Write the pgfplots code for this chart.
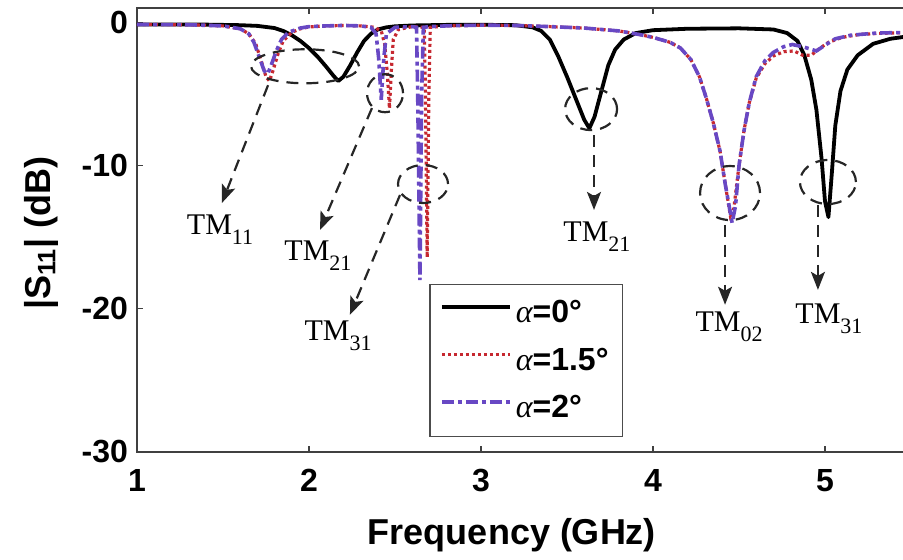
\documentclass[border=0pt]{standalone}
\usepackage{pgfplots}
\pgfplotsset{compat=1.18}
\usepackage{fontspec}
\setmainfont{Liberation Sans}
\newfontfamily\tmfont{Liberation Serif}
\usetikzlibrary{arrows.meta}
\definecolor{redA}{RGB}{198,40,48}
\definecolor{purA}{RGB}{104,72,196}
\newcommand{\tm}[1]{TM\raisebox{-5pt}{\fontsize{11}{12}\selectfont #1}}

\begin{document}
\begin{tikzpicture}
\begin{axis}[
  scale only axis,
  width=387pt, height=222pt,
  xmin=1, xmax=5.5, ymin=-30, ymax=1,
  xtick={1,2,3,4,5}, xticklabels={1,2,3,4,5},
  ytick={-30,-20,-10,0}, yticklabels={-30,-20,-10,0},
  tick align=inside, major tick length=3pt,
  axis line style={black!75, line width=0.6pt},
  tick style={black!75, line width=0.6pt},
  tick label style={font=\fontsize{16}{18}\selectfont\bfseries},
  xticklabel style={yshift=-5pt},
  yticklabel style={xshift=-1pt},
  xlabel={Frequency (GHz)},
  ylabel={|S\textsubscript{11}| (dB)},
  label style={font=\fontsize{18}{20}\selectfont\bfseries},
  xlabel style={at={(axis description cs:0.4845,0)}, anchor=center, yshift=-41.5pt},
  ylabel style={at={(axis description cs:0,0.493)}, anchor=center, yshift=48pt},
  legend style={at={(axis cs:2.70,-18.26)}, anchor=north west,
    draw=black!70, line width=0.6pt, fill=white,
    font=\fontsize{16}{18}\selectfont\bfseries,
    row sep=7pt, inner xsep=5pt, inner ysep=6pt},
  legend cell align=left,
  legend image code/.code={\draw[#1] (0pt,3pt) -- (34pt,3pt);},
]
% alpha = 0
\addplot[black, line width=1.9pt, line join=round] coordinates {
  (1.0,-0.15)(1.2,-0.15)(1.4,-0.16)(1.6,-0.2)(1.7,-0.25)(1.8,-0.4)(1.85,-0.6)
  (1.9,-0.9)(1.95,-1.3)(2.0,-1.8)(2.05,-2.4)(2.1,-3.1)(2.14,-3.7)(2.17,-4.1)
  (2.2,-3.8)(2.24,-3.0)(2.28,-2.1)(2.32,-1.3)(2.36,-0.8)(2.4,-0.5)(2.45,-0.35)
  (2.5,-0.28)(2.6,-0.22)(2.8,-0.18)(3.0,-0.17)(3.2,-0.2)(3.3,-0.35)(3.35,-0.6)
  (3.4,-1.2)(3.45,-2.4)(3.5,-3.8)(3.55,-5.3)(3.6,-6.8)(3.63,-7.4)(3.66,-6.6)
  (3.7,-4.8)(3.74,-3.0)(3.78,-1.9)(3.83,-1.2)(3.9,-0.75)(4.0,-0.55)(4.2,-0.45)
  (4.5,-0.42)(4.7,-0.5)(4.78,-0.75)(4.84,-1.3)(4.88,-2.3)(4.92,-4.0)(4.95,-6.1)
  (4.98,-9.5)(5.0,-12.5)(5.02,-13.6)(5.04,-10.5)(5.06,-7.2)(5.09,-4.8)
  (5.13,-3.3)(5.19,-2.3)(5.28,-1.5)(5.38,-1.15)(5.5,-0.95)};
\addlegendentry{{\tmfont\itshape\mdseries α}=0°}
% alpha = 1.5
\addplot[redA, line width=1.6pt, dash pattern=on 1.5pt off 1.5pt] coordinates {
  (1.0,-0.15)(1.3,-0.17)(1.5,-0.25)(1.6,-0.45)(1.65,-0.8)(1.69,-1.5)(1.72,-2.6)
  (1.75,-3.8)(1.77,-4.1)(1.79,-3.4)(1.82,-2.2)(1.85,-1.3)(1.9,-0.7)(1.95,-0.45)
  (2.0,-0.32)(2.1,-0.25)(2.2,-0.22)(2.3,-0.25)(2.38,-0.35)(2.42,-0.6)(2.44,-1.5)
  (2.455,-3.5)(2.468,-6.0)(2.478,-3.5)(2.49,-1.2)(2.52,-0.5)(2.6,-0.3)
  (2.67,-0.35)(2.677,-5)(2.687,-16.4)(2.697,-5)(2.705,-0.35)
  (2.8,-0.25)(3.0,-0.2)(3.2,-0.22)(3.4,-0.3)(3.6,-0.4)(3.8,-0.6)(3.92,-0.85)
  (4.0,-1.05)(4.1,-1.4)(4.16,-1.8)(4.22,-2.6)(4.27,-3.8)(4.31,-5.3)(4.35,-7.0)
  (4.39,-9.0)(4.42,-11.3)(4.45,-13.5)(4.47,-13.0)(4.5,-10.0)(4.53,-7.5)
  (4.56,-5.6)(4.6,-3.9)(4.65,-2.9)(4.7,-2.35)(4.76,-2.05)(4.82,-2.0)(4.87,-2.3)
  (4.92,-2.3)(4.96,-1.9)(5.02,-1.4)(5.1,-1.05)(5.2,-0.85)(5.3,-0.78)(5.5,-0.7)};
\addlegendentry{{\tmfont\itshape\mdseries α}=1.5°}
% alpha = 2
\addplot[purA, line width=1.8pt, dash pattern=on 6pt off 2pt on 2pt off 2pt] coordinates {
  (1.0,-0.15)(1.3,-0.17)(1.5,-0.25)(1.6,-0.45)(1.65,-0.8)(1.68,-1.4)(1.71,-2.4)
  (1.74,-3.4)(1.76,-3.6)(1.78,-3.0)(1.81,-2.0)(1.84,-1.2)(1.88,-0.7)(1.95,-0.4)
  (2.0,-0.3)(2.1,-0.25)(2.2,-0.22)(2.3,-0.25)(2.36,-0.35)(2.39,-0.8)(2.405,-2.5)
  (2.42,-5.4)(2.435,-2.5)(2.45,-0.8)(2.5,-0.35)(2.6,-0.3)
  (2.625,-0.35)(2.632,-5)(2.645,-18)(2.655,-5)(2.665,-0.35)
  (2.7,-0.3)(2.8,-0.25)(3.0,-0.2)(3.2,-0.22)(3.4,-0.3)(3.6,-0.4)(3.8,-0.6)
  (3.92,-0.85)(4.0,-1.05)(4.1,-1.4)(4.16,-1.8)(4.22,-2.6)(4.27,-3.8)(4.31,-5.3)
  (4.35,-7.0)(4.39,-9.0)(4.42,-11.3)(4.46,-14.0)(4.48,-12.8)(4.5,-10.0)
  (4.53,-7.5)(4.56,-5.6)(4.6,-3.8)(4.65,-2.7)(4.7,-2.1)(4.76,-1.7)(4.81,-1.55)
  (4.87,-1.7)(4.95,-2.0)(5.0,-1.6)(5.06,-1.15)(5.15,-0.9)(5.3,-0.75)(5.5,-0.7)};
\addlegendentry{{\tmfont\itshape\mdseries α}=2°}

% mode annotations
\begin{scope}[black!85, line width=1.1pt, dash pattern=on 6pt off 4pt]
  \draw (axis cs:1.977,-3.07) ellipse [x radius=27pt, y radius=8.5pt];
  \draw (axis cs:2.442,-4.95) ellipse [x radius=9pt, y radius=9.5pt];
  \draw (axis cs:2.663,-11.29) ellipse [x radius=12.5pt, y radius=9.5pt];
  \draw (axis cs:3.640,-6.06) ellipse [x radius=13pt, y radius=10.5pt];
  \draw (axis cs:4.448,-11.92) ellipse [x radius=15pt, y radius=13.5pt];
  \draw (axis cs:5.017,-11.15) ellipse [x radius=14pt, y radius=11pt];
  \draw[-{Stealth[length=9pt,width=7pt,inset=2pt]}] (axis cs:1.762,-4.39) -- (axis cs:1.494,-12.61);
  \draw[-{Stealth[length=9pt,width=7pt,inset=2pt]}] (axis cs:2.366,-5.99) -- (axis cs:2.064,-14.49);
  \draw[-{Stealth[length=9pt,width=7pt,inset=2pt]}] (axis cs:2.529,-12.06) -- (axis cs:2.238,-20.42);
  \draw[-{Stealth[length=9pt,width=7pt,inset=2pt]}] (axis cs:3.657,-7.87) -- (axis cs:3.657,-13.1);
  \draw[-{Stealth[length=9pt,width=7pt,inset=2pt]}] (axis cs:4.419,-14.15) -- (axis cs:4.419,-19.72);
  \draw[-{Stealth[length=9pt,width=7pt,inset=2pt]}] (axis cs:4.959,-12.75) -- (axis cs:4.959,-18.68);
\end{scope}
\begin{scope}[every node/.style={font=\tmfont\fontsize{15}{17}\selectfont, inner sep=0pt}]
  \node at (axis cs:1.483,-14.5) {\tm{11}};
  \node at (axis cs:2.052,-16.3) {\tm{21}};
  \node at (axis cs:2.169,-21.88) {\tm{31}};
  \node at (axis cs:3.674,-14.98) {\tm{21}};
  \node at (axis cs:4.442,-21.25) {\tm{02}};
  \node at (axis cs:5.023,-20.7) {\tm{31}};
\end{scope}
\end{axis}
\pgfresetboundingbox
\useasboundingbox (-68.5pt,-54pt) rectangle (383pt,226pt);
\end{tikzpicture}
\end{document}
